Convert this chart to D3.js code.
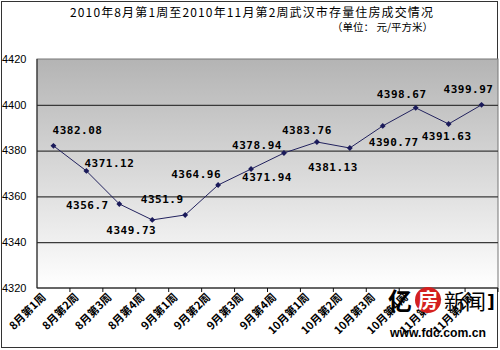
<!DOCTYPE html>
<html>
<head>
<meta charset="utf-8">
<script src="https://cdn.jsdelivr.net/npm/d3@7"></script>
<style>
  body { margin: 0; background: #fff; }
  svg { display: block; }
</style>
</head>
<body>
<div class="line-chart"></div>
<script>
// data
var weeks = ["8月第1周", "8月第2周", "8月第3周", "8月第4周", "9月第1周", "9月第2周", "9月第3周",
             "9月第4周", "10月第1周", "10月第2周", "10月第3周", "10月第4周", "11月第1周", "11月第2周"];
var prices = [4382.08, 4371.12, 4356.7, 4349.73, 4351.9, 4364.96, 4371.94,
              4378.94, 4383.76, 4381.13, 4390.77, 4398.67, 4391.63, 4399.97];
var yTicks = [4320, 4340, 4360, 4380, 4400, 4420];
var title = "2010年8月第1周至2010年11月第2周武汉市存量住房成交情况";
var unit = "（单位： 元/平方米）";

function buildLineChart() {

    var W = 500, H = 350;
    var margin = {top: 59, right: 2, bottom: 62, left: 37},
        width = W - margin.left - margin.right,
        height = H - margin.top - margin.bottom;

    var svg = d3.select(".line-chart").append("svg")
        .attr("width", W)
        .attr("height", H);

    // gradient for the plot background
    var grad = svg.append("defs").append("linearGradient")
        .attr("id", "bg")
        .attr("x1", 0).attr("y1", 0).attr("x2", 0).attr("y2", 1);
    grad.append("stop").attr("offset", "0%").attr("stop-color", "#b4b4b4");
    grad.append("stop").attr("offset", "100%").attr("stop-color", "#ffffff");

    // outer frame
    svg.append("rect")
        .attr("x", 1.5).attr("y", 1.5)
        .attr("width", W - 4).attr("height", H - 4)
        .attr("fill", "none")
        .attr("stroke", "#333");

    // titles
    svg.append("text")
        .attr("x", 70).attr("y", 17)
        .attr("textLength", 363)
        .attr("lengthAdjust", "spacing")
        .style("font-family", "'Noto Sans CJK SC', sans-serif")
        .style("font-size", "12px")
        .text(title);
    svg.append("text")
        .attr("x", 433).attr("y", 31)
        .attr("text-anchor", "end")
        .style("font-family", "'Noto Sans CJK SC', sans-serif")
        .style("font-size", "10.5px")
        .text(unit);

    var g = svg.append("g")
        .attr("transform", "translate(" + margin.left + "," + margin.top + ")");

    // scales
    var x = d3.scaleBand()
        .domain(weeks)
        .range([0, width]);
    var y = d3.scaleLinear()
        .domain([4320, 4420])
        .range([height, 0]);

    // plot background
    g.append("rect")
        .attr("width", width)
        .attr("height", height)
        .attr("fill", "url(#bg)")
        .attr("stroke", "#777");

    // gridlines
    g.append("g")
        .attr("class", "grid")
        .call(d3.axisLeft(y).tickValues(yTicks.slice(1, -1)).tickSize(-width).tickFormat(""))
        .call(function (s) {
            s.select(".domain").remove();
            s.selectAll("line").attr("stroke", "#3a3a3a").attr("stroke-width", 1.3);
        });

    // y labels (left aligned at the frame edge)
    g.append("g")
        .selectAll("text")
        .data(yTicks)
        .enter().append("text")
        .attr("x", -margin.left + 2)
        .attr("y", function (d) { return y(d); })
        .attr("dy", "0.35em")
        .style("font-family", "'Liberation Sans', Arial, sans-serif")
        .style("font-size", "11px")
        .text(function (d) { return d; });

    // left axis line
    g.append("line")
        .attr("x1", 0).attr("x2", 0)
        .attr("y1", 0).attr("y2", height)
        .attr("stroke", "#222");

    // x axis: ticks at band edges
    var xAxis = g.append("g")
        .attr("transform", "translate(0," + height + ")");
    xAxis.append("line")
        .attr("x1", 0).attr("x2", width)
        .attr("stroke", "#111");
    xAxis.selectAll(".tick")
        .data(weeks)
        .enter().append("line")
        .attr("class", "tick")
        .attr("x1", function (d) { return x(d) + x.bandwidth(); })
        .attr("x2", function (d) { return x(d) + x.bandwidth(); })
        .attr("y1", 0).attr("y2", 4)
        .attr("stroke", "#111");
    xAxis.selectAll(".xlab")
        .data(weeks)
        .enter().append("text")
        .attr("class", "xlab")
        .attr("transform", function (d) {
            var cx = x(d) + x.bandwidth() / 2 - 7;
            return "translate(" + cx + ",10) rotate(-45)";
        })
        .attr("text-anchor", "end")
        .style("font-family", "'Noto Sans CJK SC', sans-serif")
        .style("font-size", "11px")
        .style("font-weight", "bold")
        .text(function (d) { return d; });

    // line
    var pts = weeks.map(function (w, i) { return {week: w, value: prices[i]}; });
    var line = d3.line()
        .x(function (d) { return x(d.week) + x.bandwidth() / 2; })
        .y(function (d) { return y(d.value); });
    g.append("path")
        .datum(pts)
        .attr("fill", "none")
        .attr("stroke", "#22225e")
        .attr("stroke-width", 1)
        .attr("d", line);

    // diamond markers
    g.selectAll(".dot")
        .data(pts)
        .enter().append("path")
        .attr("class", "dot")
        .attr("d", d3.symbol().type(d3.symbolDiamond2).size(22))
        .attr("transform", function (d) {
            return "translate(" + (x(d.week) + x.bandwidth() / 2) + "," + y(d.value) + ")";
        })
        .attr("fill", "#1a1a5a");

    // value labels, nudged around the points like the original
    var nudge = [[24, -16], [23, -8], [-32, 1], [-21, 10], [-23, -16], [-22, -11], [16, 8],
                 [-27, -8], [-10, -12], [-17, 19], [11, 16], [-14, -14], [-2, 12], [-13, -16]];
    g.selectAll(".val")
        .data(pts)
        .enter().append("text")
        .attr("class", "val")
        .attr("x", function (d, i) { return x(d.week) + x.bandwidth() / 2 + nudge[i][0]; })
        .attr("y", function (d, i) { return y(d.value) + nudge[i][1]; })
        .attr("dy", "0.35em")
        .attr("text-anchor", "middle")
        .style("font-family", "'DejaVu Sans Mono', monospace")
        .style("font-size", "11px")
        .style("font-weight", "bold")
        .style("letter-spacing", "0.5px")
        .text(function (d) { return d.value; });

    // watermark
    var wm = svg.append("g").attr("transform", "translate(388,288)");
    wm.append("text")
        .attr("x", 0).attr("y", 22)
        .style("font-family", "'Noto Sans CJK SC', sans-serif")
        .style("font-size", "24px")
        .style("font-weight", "bold")
        .text("亿");
    wm.append("circle")
        .attr("cx", 40).attr("cy", 12).attr("r", 13)
        .attr("fill", "#d42020");
    wm.append("text")
        .attr("x", 40).attr("y", 20)
        .attr("text-anchor", "middle")
        .attr("fill", "#fff")
        .style("font-family", "'Noto Sans CJK SC', sans-serif")
        .style("font-size", "20px")
        .style("font-weight", "bold")
        .text("房");
    wm.append("text")
        .attr("x", 56).attr("y", 21)
        .style("font-family", "'Noto Sans CJK SC', sans-serif")
        .style("font-size", "21px")
        .text("新闻");
    wm.append("text")
        .attr("x", 99).attr("y", 20)
        .style("font-family", "'DejaVu Sans', sans-serif")
        .style("font-size", "17px")
        .style("font-weight", "bold")
        .text("]");
    wm.append("text")
        .attr("x", 2).attr("y", 49)
        .attr("textLength", 96)
        .attr("lengthAdjust", "spacingAndGlyphs")
        .style("font-family", "'Liberation Sans', sans-serif")
        .style("font-size", "13px")
        .style("font-weight", "bold")
        .text("www.fdc.com.cn");
}

buildLineChart();
</script>
</body>
</html>
